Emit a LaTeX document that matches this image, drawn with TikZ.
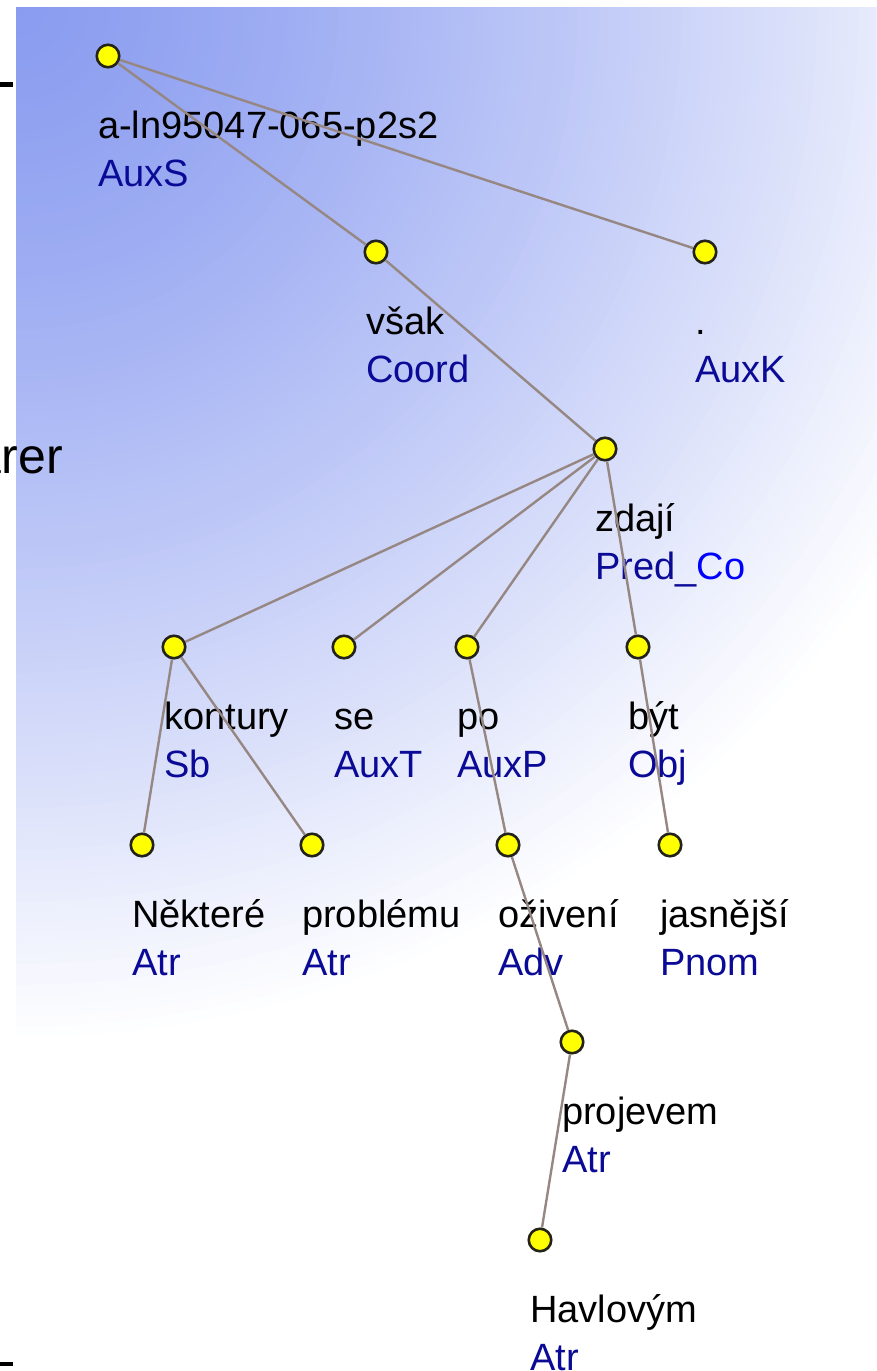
\documentclass[tikz,border=0pt]{standalone}
\usepackage{fontspec}
\setmainfont{Liberation Sans}
\definecolor{panelblue}{RGB}{138,156,240}
\definecolor{edgecol}{RGB}{150,135,130}
\definecolor{dotfill}{RGB}{255,255,0}
\definecolor{dotline}{RGB}{35,35,25}
\definecolor{tagblue}{RGB}{10,10,150}
\definecolor{brightblue}{RGB}{0,0,255}
\tikzset{
  dot/.style={circle, fill=dotfill, draw=dotline, line width=2.6pt, minimum size=22.5pt, inner sep=0pt},
  wordtxt/.style={anchor=base west, inner sep=0pt, text=black, font=\fontsize{38}{44}\selectfont},
  tagtxt/.style={anchor=base west, inner sep=0pt, text=tagblue, font=\fontsize{38}{44}\selectfont},
  treeedge/.style={draw=edgecol, line width=2.4pt},
}
\newcommand\treenode[5]{%
  \node[dot] (#1) at (#2,#3) {};
  \node[wordtxt] (#1w) at (#2-10,#3+82) {#4};
  \node[tagtxt] (#1t) at (#2-10,#3+130) {#5};
}
\begin{document}
\begin{tikzpicture}[x=1pt,y=-1pt]
\useasboundingbox (0,0) rectangle (876,1371);
% gradient panel
\begin{scope}
  \clip (16,7) rectangle (876,1371);
  \foreach \i in {100,99,...,1}{
    \pgfmathsetmacro\p{100*(1-(\i/100)^1.3)}
    \fill[panelblue!\p!white] (16,7) circle[radius=10.4*\i];
  }
\end{scope}
% left-edge fragments
\node[anchor=base east, inner sep=0pt, font=\fontsize{50}{60}\selectfont] (cut) at (63,473) {arer};
\fill[black] (0,82) rectangle (13,87);
\fill[black] (0,1362) rectangle (13,1366);
% tree nodes
\treenode{root}{108}{56}{a-ln95047-065-p2s2}{AuxS}
\treenode{vsak}{376}{252}{však}{Coord}
\treenode{auxk}{705}{252}{.}{AuxK}
\treenode{zdaji}{605}{449}{zdají}{Pred\_{\color{brightblue}Co}}
\treenode{kontury}{174}{647}{kontury}{Sb}
\treenode{se}{344}{647}{se}{AuxT}
\treenode{po}{467}{647}{po}{AuxP}
\treenode{byt}{638}{647}{být}{Obj}
\treenode{nektere}{142}{845}{Některé}{Atr}
\treenode{problemu}{312}{845}{problému}{Atr}
\treenode{oziveni}{508}{845}{oživení}{Adv}
\treenode{jasnejsi}{670}{845}{jasnější}{Pnom}
\treenode{projevem}{572}{1042}{projevem}{Atr}
\treenode{havlovym}{540}{1240}{Havlovým}{Atr}
% edges
\draw[treeedge] (root) -- (vsak);
\draw[treeedge] (root) -- (auxk);
\draw[treeedge] (vsak) -- (zdaji);
\draw[treeedge] (zdaji) -- (kontury);
\draw[treeedge] (zdaji) -- (se);
\draw[treeedge] (zdaji) -- (po);
\draw[treeedge] (zdaji) -- (byt);
\draw[treeedge] (kontury) -- (nektere);
\draw[treeedge] (kontury) -- (problemu);
\draw[treeedge] (po) -- (oziveni);
\draw[treeedge] (byt) -- (jasnejsi);
\draw[treeedge] (oziveni) -- (projevem);
\draw[treeedge] (projevem) -- (havlovym);
\end{tikzpicture}
\end{document}
